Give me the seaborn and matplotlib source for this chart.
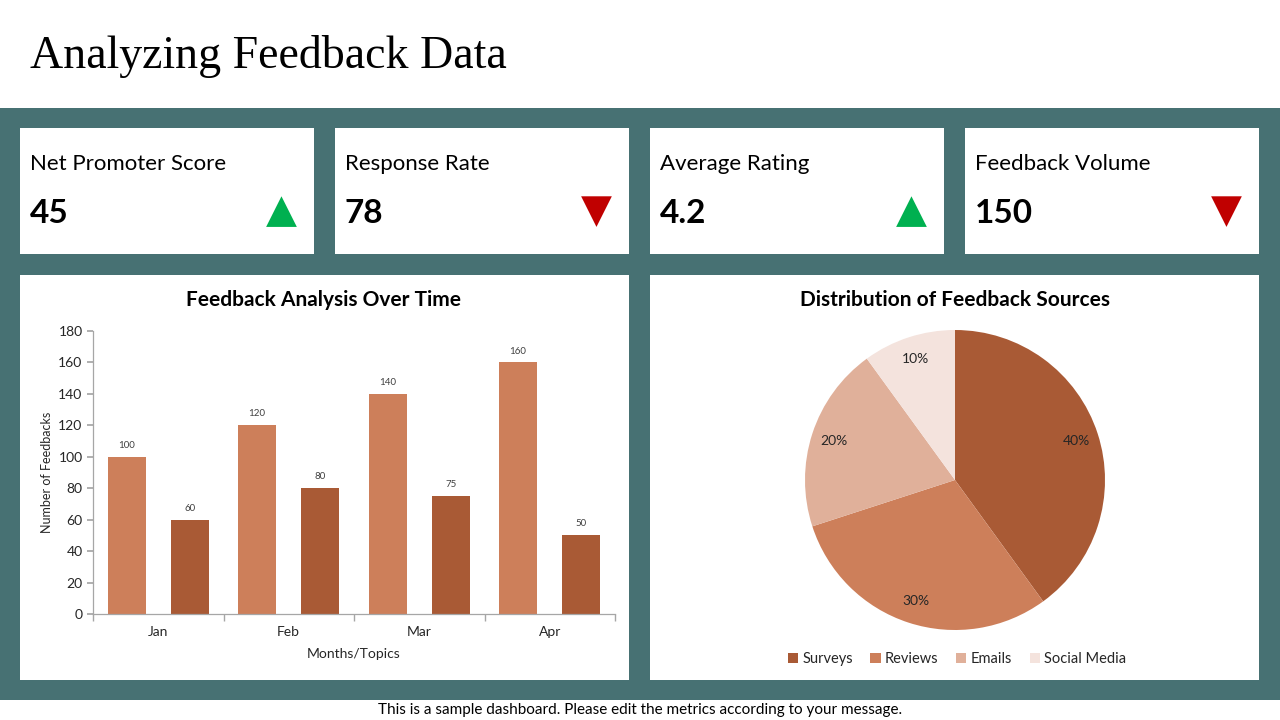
import numpy as np
import pandas as pd
import matplotlib.pyplot as plt
import seaborn as sns
from matplotlib.patches import Rectangle

# ===== Data =====
kpi_names = ["Net Promoter Score", "Response Rate", "Average Rating", "Feedback Volume"]
kpi_values = ["45", "78", "4.2", "150"]
kpi_trend = ["up", "down", "up", "down"]

months = ["Jan", "Feb", "Mar", "Apr"]
series_names = ["Series 1", "Series 2"]
series_1 = [100, 120, 140, 160]
series_2 = [60, 80, 75, 50]

sources = ["Surveys", "Reviews", "Emails", "Social Media"]
source_share = [40, 30, 20, 10]

# ===== Style =====
teal = "#477173"
bar_colors = ["#CD7F5A", "#A95A35"]
pie_colors = ["#A95A35", "#CD7F5A", "#E0B09A", "#F4E3DD"]
up_color, down_color = "#00B050", "#C00000"

sns.set_theme(style="white")
plt.rcParams['font.family'] = ['Lato', 'DejaVu Sans']

W, H = 1280, 720
fig = plt.figure(figsize=(12.8, 7.2), dpi=100)
fig.patch.set_facecolor("white")


def px_rect(x0, y0, x1, y1, color):
    # rectangle in pixel coords (top-left origin), kept behind the axes
    fig.patches.append(Rectangle((x0 / W, 1 - y1 / H), (x1 - x0) / W, (y1 - y0) / H,
                                 transform=fig.transFigure, facecolor=color,
                                 edgecolor="none", zorder=-5))


# background band and panels
px_rect(0, 108, W, 700, teal)
card_x = [20, 335, 650, 965]
for x0 in card_x:
    px_rect(x0, 128, x0 + 294, 254, "white")
px_rect(20, 275, 629, 680, "white")
px_rect(650, 275, 1259, 680, "white")

# header / footer
fig.text(30 / W, 1 - 57 / H, "Analyzing Feedback Data", family="Liberation Serif",
         fontsize=33, va="center", ha="left", color="black")
fig.text(640 / W, 1 - 710 / H,
         "This is a sample dashboard. Please edit the metrics according to your message.",
         fontsize=11, ha="center", va="center", color="black")

# ===== KPI cards =====
for x0, name, val, trend in zip(card_x, kpi_names, kpi_values, kpi_trend):
    fig.text((x0 + 10) / W, 1 - 164 / H, name, fontsize=16, va="center", ha="left", color="black")
    fig.text((x0 + 10) / W, 1 - 213 / H, val, fontsize=24, fontweight="bold",
             va="center", ha="left", color="black")
    glyph = "\u25B2" if trend == "up" else "\u25BC"
    fig.text((x0 + 261) / W, 1 - 211 / H, glyph, family="DejaVu Sans", fontsize=29,
             ha="center", va="center", color=up_color if trend == "up" else down_color)

# ===== Bar chart =====
df = pd.DataFrame({
    "Month": months * 2,
    "Series": [series_names[0]] * len(months) + [series_names[1]] * len(months),
    "Value": series_1 + series_2,
})

ax = fig.add_axes([93 / W, 1 - 614 / H, (615 - 93) / W, (614 - 331) / H])
sns.barplot(data=df, x="Month", y="Value", hue="Series", palette=bar_colors,
            width=0.97, gap=0.4, legend=False, ax=ax, saturation=1, linewidth=0)
for cont in ax.containers:
    ax.bar_label(cont, fontsize=7, padding=5, color="#404040")

ax.set_xlim(-0.5, 3.5)
ax.set_ylim(0, 180)
ax.set_yticks(np.arange(0, 181, 20))
ax.set_xticks(np.arange(-0.5, 3.6, 1), minor=True)
ax.tick_params(axis="x", which="major", length=0, labelsize=10, labelcolor="#262626", pad=9)
ax.tick_params(axis="x", which="minor", length=5, color="#A6A6A6", direction="out", bottom=True)
ax.tick_params(axis="y", length=4, color="#A6A6A6", direction="out", left=True,
               labelsize=10, labelcolor="#262626")
sns.despine(ax=ax)
for s in ["left", "bottom"]:
    ax.spines[s].set_color("#A6A6A6")
    ax.spines[s].set_linewidth(0.9)
ax.set_xlabel("Months/Topics", fontsize=10, color="#262626", labelpad=7)
ax.set_ylabel("Number of Feedbacks", fontsize=9, color="#262626", labelpad=4)
ax.set_facecolor("white")
fig.text(324 / W, 1 - 300 / H, "Feedback Analysis Over Time", fontsize=15,
         fontweight="bold", ha="center", va="center", color="black")

# ===== Pie chart =====
pax = fig.add_axes([805 / W, 1 - 630 / H, 300 / W, 300 / H])
wedges, _, autotexts = pax.pie(source_share, colors=pie_colors, startangle=90,
                               counterclock=False, autopct="%d%%", pctdistance=0.85,
                               radius=1.0, wedgeprops=dict(linewidth=0),
                               textprops=dict(fontsize=10, color="#262626"))
pax.set_xlim(-1, 1)
pax.set_ylim(-1, 1)
pax.set_aspect("equal")
fig.text(955 / W, 1 - 300 / H, "Distribution of Feedback Sources", fontsize=15,
         fontweight="bold", ha="center", va="center", color="black")
fig.legend(wedges, sources, loc="center", bbox_to_anchor=(957 / W, 1 - 659 / H),
           ncol=4, frameon=False, fontsize=10.5, handlelength=0.7, handleheight=0.7,
           handletextpad=0.3, columnspacing=1.2)

fig.savefig("out.png", dpi=100, facecolor="white")
